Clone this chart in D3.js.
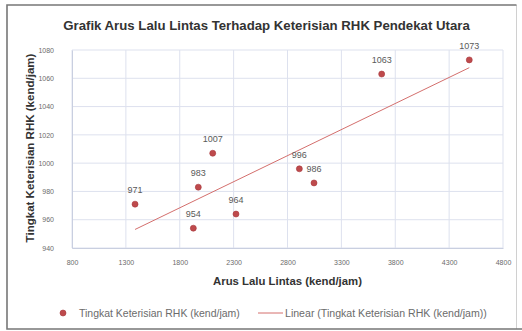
<!DOCTYPE html>
<html>
<head>
<meta charset="utf-8">
<script src="https://cdn.jsdelivr.net/npm/d3@7"></script>
<style>
  html, body { margin: 0; padding: 0; background: #fff; }
  svg { display: block; font-family: "Liberation Sans", Arial, sans-serif; }
</style>
</head>
<body>
<svg id="chart" width="522" height="331"></svg>
<script>
// ---- data ----
const arusLaluLintas = [1385, 1926, 1972, 2106, 2322, 2910, 3046, 3674, 4487];
const keterisianRHK  = [971, 954, 983, 1007, 964, 996, 986, 1063, 1073];
const xTicks = [800, 1300, 1800, 2300, 2800, 3300, 3800, 4300, 4800];
const yTicks = [940, 960, 980, 1000, 1020, 1040, 1060, 1080];
const titleText = "Grafik Arus Lalu Lintas Terhadap Keterisian RHK Pendekat Utara";
const xTitle = "Arus Lalu Lintas (kend/jam)";
const yTitle = "Tingkat Keterisian RHK (kend/jam)";
const seriesName = "Tingkat Keterisian RHK (kend/jam)";
const trendName = "Linear (Tingkat Keterisian RHK (kend/jam))";

const points = arusLaluLintas.map((x, i) => ({ x, y: keterisianRHK[i] }));

const svg = d3.select("#chart");

function fitText(sel, target) {
  sel.style("font-size", "10px");
  const w = sel.node().getComputedTextLength();
  sel.style("font-size", (10 * target / w) + "px");
  return sel;
}

// frame
const frame = svg.append("g");
frame.append("line").attr("x1", 516.5).attr("x2", 516.5).attr("y1", 5).attr("y2", 329)
  .attr("stroke", "#d0d0d0").attr("stroke-width", 1);
frame.append("path").attr("d", "M516.5,5 H7 V329 H522")
  .attr("fill", "none").attr("stroke", "#777").attr("stroke-width", 1.6);

const x = d3.scaleLinear().domain([800, 4800]).range([72, 503]);
const y = d3.scaleLinear().domain([940, 1080]).range([248, 50]);

// gridlines
const grid = svg.append("g");
grid.selectAll("line.v").data(xTicks).join("line")
  .attr("x1", d => x(d)).attr("x2", d => x(d))
  .attr("y1", y(1080)).attr("y2", y(940))
  .attr("stroke", "#dde1ee").attr("stroke-width", 1);
grid.selectAll("line.h").data(yTicks).join("line")
  .attr("x1", x(800)).attr("x2", x(4800))
  .attr("y1", d => y(d)).attr("y2", d => y(d))
  .attr("stroke", "#dde1ee").attr("stroke-width", 1);

// axes
const xAxis = svg.append("g").attr("transform", `translate(0,${y(940)})`)
  .call(d3.axisBottom(x).tickValues(xTicks).tickSize(0).tickPadding(12).tickFormat(d3.format("d")));
const yAxis = svg.append("g").attr("transform", `translate(${x(800)},0)`)
  .call(d3.axisLeft(y).tickValues(yTicks).tickSize(0).tickPadding(18).tickFormat(d3.format("d")));
[xAxis, yAxis].forEach(a => {
  a.select(".domain").attr("stroke", "#c9cfe0");
  a.selectAll("text").attr("fill", "#6b6b6b").style("font-size", "7px")
    .style("font-family", "Liberation Sans, Arial, sans-serif");
});
xAxis.selectAll("text").attr("dy", "0.35em").attr("y", 15);

// trendline (least squares)
const mx = d3.mean(arusLaluLintas), my = d3.mean(keterisianRHK);
const slope = d3.sum(points, p => (p.x - mx) * (p.y - my)) / d3.sum(points, p => (p.x - mx) ** 2);
const icpt = my - slope * mx;
const [xmin, xmax] = d3.extent(arusLaluLintas);
svg.append("line")
  .attr("x1", x(xmin)).attr("y1", y(icpt + slope * xmin))
  .attr("x2", x(xmax)).attr("y2", y(icpt + slope * xmax))
  .attr("stroke", "#d46f6d").attr("stroke-width", 1);

// points
svg.append("g").selectAll("circle").data(points).join("circle")
  .attr("cx", d => x(d.x)).attr("cy", d => y(d.y)).attr("r", 3)
  .attr("fill", "#be4a4c").attr("stroke", "#a8383d").attr("stroke-width", 0.6);

// data labels
svg.append("g").selectAll("text").data(points).join("text")
  .attr("x", d => x(d.x)).attr("y", d => y(d.y) - 14)
  .attr("dy", "0.35em").attr("text-anchor", "middle")
  .attr("fill", "#595959").style("font-size", "9px")
  .text(d => d.y);

// titles
fitText(svg.append("text").attr("x", 266.5).attr("y", 25).attr("dy", "0.35em")
  .attr("text-anchor", "middle").attr("font-weight", "bold").attr("fill", "#333")
  .text(titleText), 407);
fitText(svg.append("text").attr("x", 287.5).attr("y", 281.5).attr("dy", "0.35em")
  .attr("text-anchor", "middle").attr("font-weight", "bold").attr("fill", "#333")
  .text(xTitle), 149);
fitText(svg.append("text").attr("transform", "translate(30,148) rotate(-90)").attr("dy", "0.35em")
  .attr("text-anchor", "middle").attr("font-weight", "bold").attr("fill", "#333")
  .text(yTitle), 189);

// legend
const lg = svg.append("g");
lg.append("circle").attr("cx", 63).attr("cy", 313).attr("r", 3)
  .attr("fill", "#be4a4c").attr("stroke", "#a8383d").attr("stroke-width", 0.6);
fitText(lg.append("text").attr("x", 79).attr("y", 313).attr("dy", "0.35em")
  .attr("fill", "#6b6b6b").text(seriesName), 161);
lg.append("line").attr("x1", 258).attr("x2", 283).attr("y1", 313).attr("y2", 313)
  .attr("stroke", "#d46f6d").attr("stroke-width", 1);
fitText(lg.append("text").attr("x", 285).attr("y", 313).attr("dy", "0.35em")
  .attr("fill", "#6b6b6b").text(trendName), 202);
</script>
</body>
</html>
